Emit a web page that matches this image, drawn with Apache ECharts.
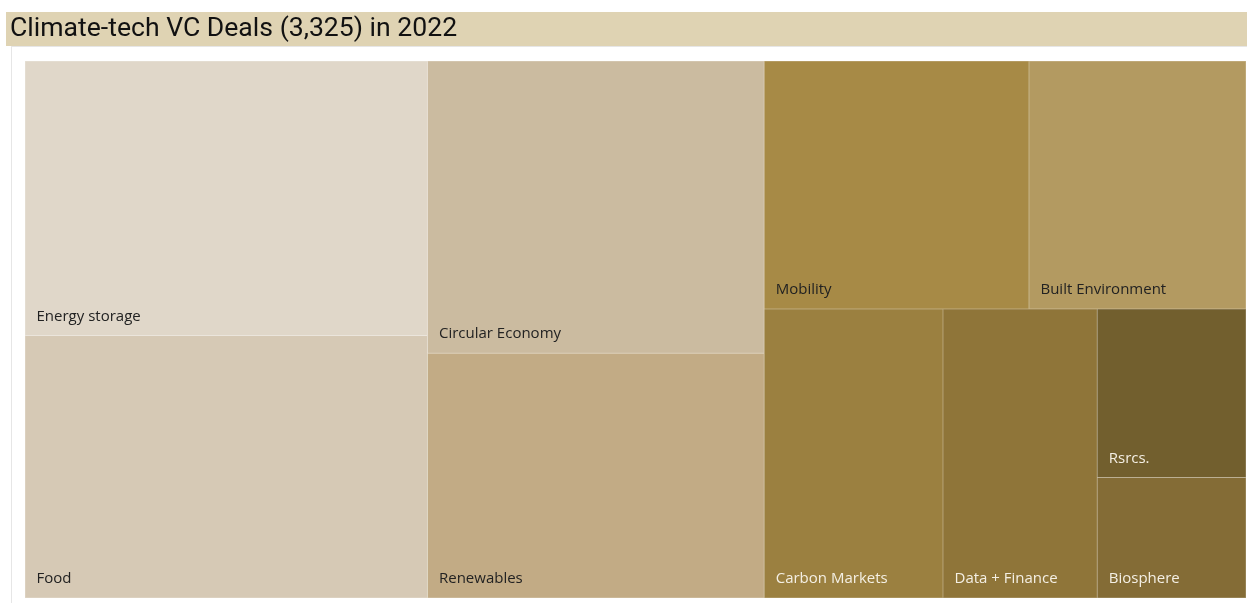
<!DOCTYPE html>
<html>
<head>
<meta charset="utf-8">
<title>Climate-tech VC Deals in 2022</title>
<script src="https://cdn.jsdelivr.net/npm/echarts@6/dist/echarts.min.js"></script>
<style>
  html, body { margin: 0; padding: 0; background: #ffffff; }
  #chart { width: 1247px; height: 603px; }
</style>
</head>
<body>
<div id="chart"></div>
<script>
// Deal counts by climate-tech sector, 2022
const sectors = ['Energy storage', 'Food', 'Circular Economy', 'Renewables', 'Mobility',
                 'Built Environment', 'Carbon Markets', 'Data + Finance', 'Rsrcs.', 'Biosphere'];
const deals   = [560, 536, 499, 418, 333, 273, 262, 226, 127, 91];
const fills   = ['#e0d7c9', '#d6c9b5', '#cbbba0', '#c2ab85', '#a78a46',
                 '#b39a61', '#9b8040', '#8f7539', '#725f2e', '#846c36'];
const inks    = ['#222222', '#222222', '#222222', '#222222', '#222222',
                 '#222222', '#f4efe4', '#f4efe4', '#f4efe4', '#f4efe4'];

const total = deals.reduce((a, b) => a + b, 0);
const titleText = 'Climate-tech VC Deals (' + total.toLocaleString('en-US') + ') in 2022';

// Cell outlines are a paler tint of each cell's own fill
function tint(hex, amount) {
  const n = parseInt(hex.slice(1), 16);
  const ch = [(n >> 16) & 255, (n >> 8) & 255, n & 255].map(c => Math.round(c + (255 - c) * amount));
  return 'rgb(' + ch.join(',') + ')';
}

const chart = echarts.init(document.getElementById('chart'), null, { renderer: 'canvas' });

chart.setOption({
  animation: false,
  graphic: [
    { type: 'rect', shape: { x: 6, y: 12, width: 1241, height: 34 }, style: { fill: '#dfd3b3' }, z: 0 },
    { type: 'line', shape: { x1: 11, y1: 46.5, x2: 1247, y2: 46.5 }, style: { stroke: '#e6e6e6', lineWidth: 1 } },
    { type: 'line', shape: { x1: 11.5, y1: 47, x2: 11.5, y2: 603 }, style: { stroke: '#e6e6e6', lineWidth: 1 } },
    {
      type: 'text', left: 10, top: 16, z: 10,
      style: { text: titleText, fontFamily: 'Roboto', fontSize: 26.6, fill: '#111111' }
    }
  ],
  series: [{
    type: 'treemap',
    left: 25, top: 61, right: 1, bottom: 5,
    squareRatio: 1,
    roam: false,
    nodeClick: false,
    breadcrumb: { show: false },
    levels: [
      { itemStyle: { borderWidth: 0, gapWidth: 0 } },
      { itemStyle: { borderWidth: 0.5, gapWidth: 0 } }
    ],
    label: {
      show: true,
      position: 'insideBottomLeft',
      distance: 0,
      padding: [0, 0, 11, 11],
      fontFamily: 'Open Sans',
      fontSize: 15,
      formatter: '{b}'
    },
    emphasis: { disabled: true },
    data: sectors.map((name, i) => ({
      name: name,
      value: deals[i],
      itemStyle: { color: fills[i], borderColor: tint(fills[i], 0.3) },
      label: { color: inks[i] }
    }))
  }]
});
</script>
</body>
</html>
